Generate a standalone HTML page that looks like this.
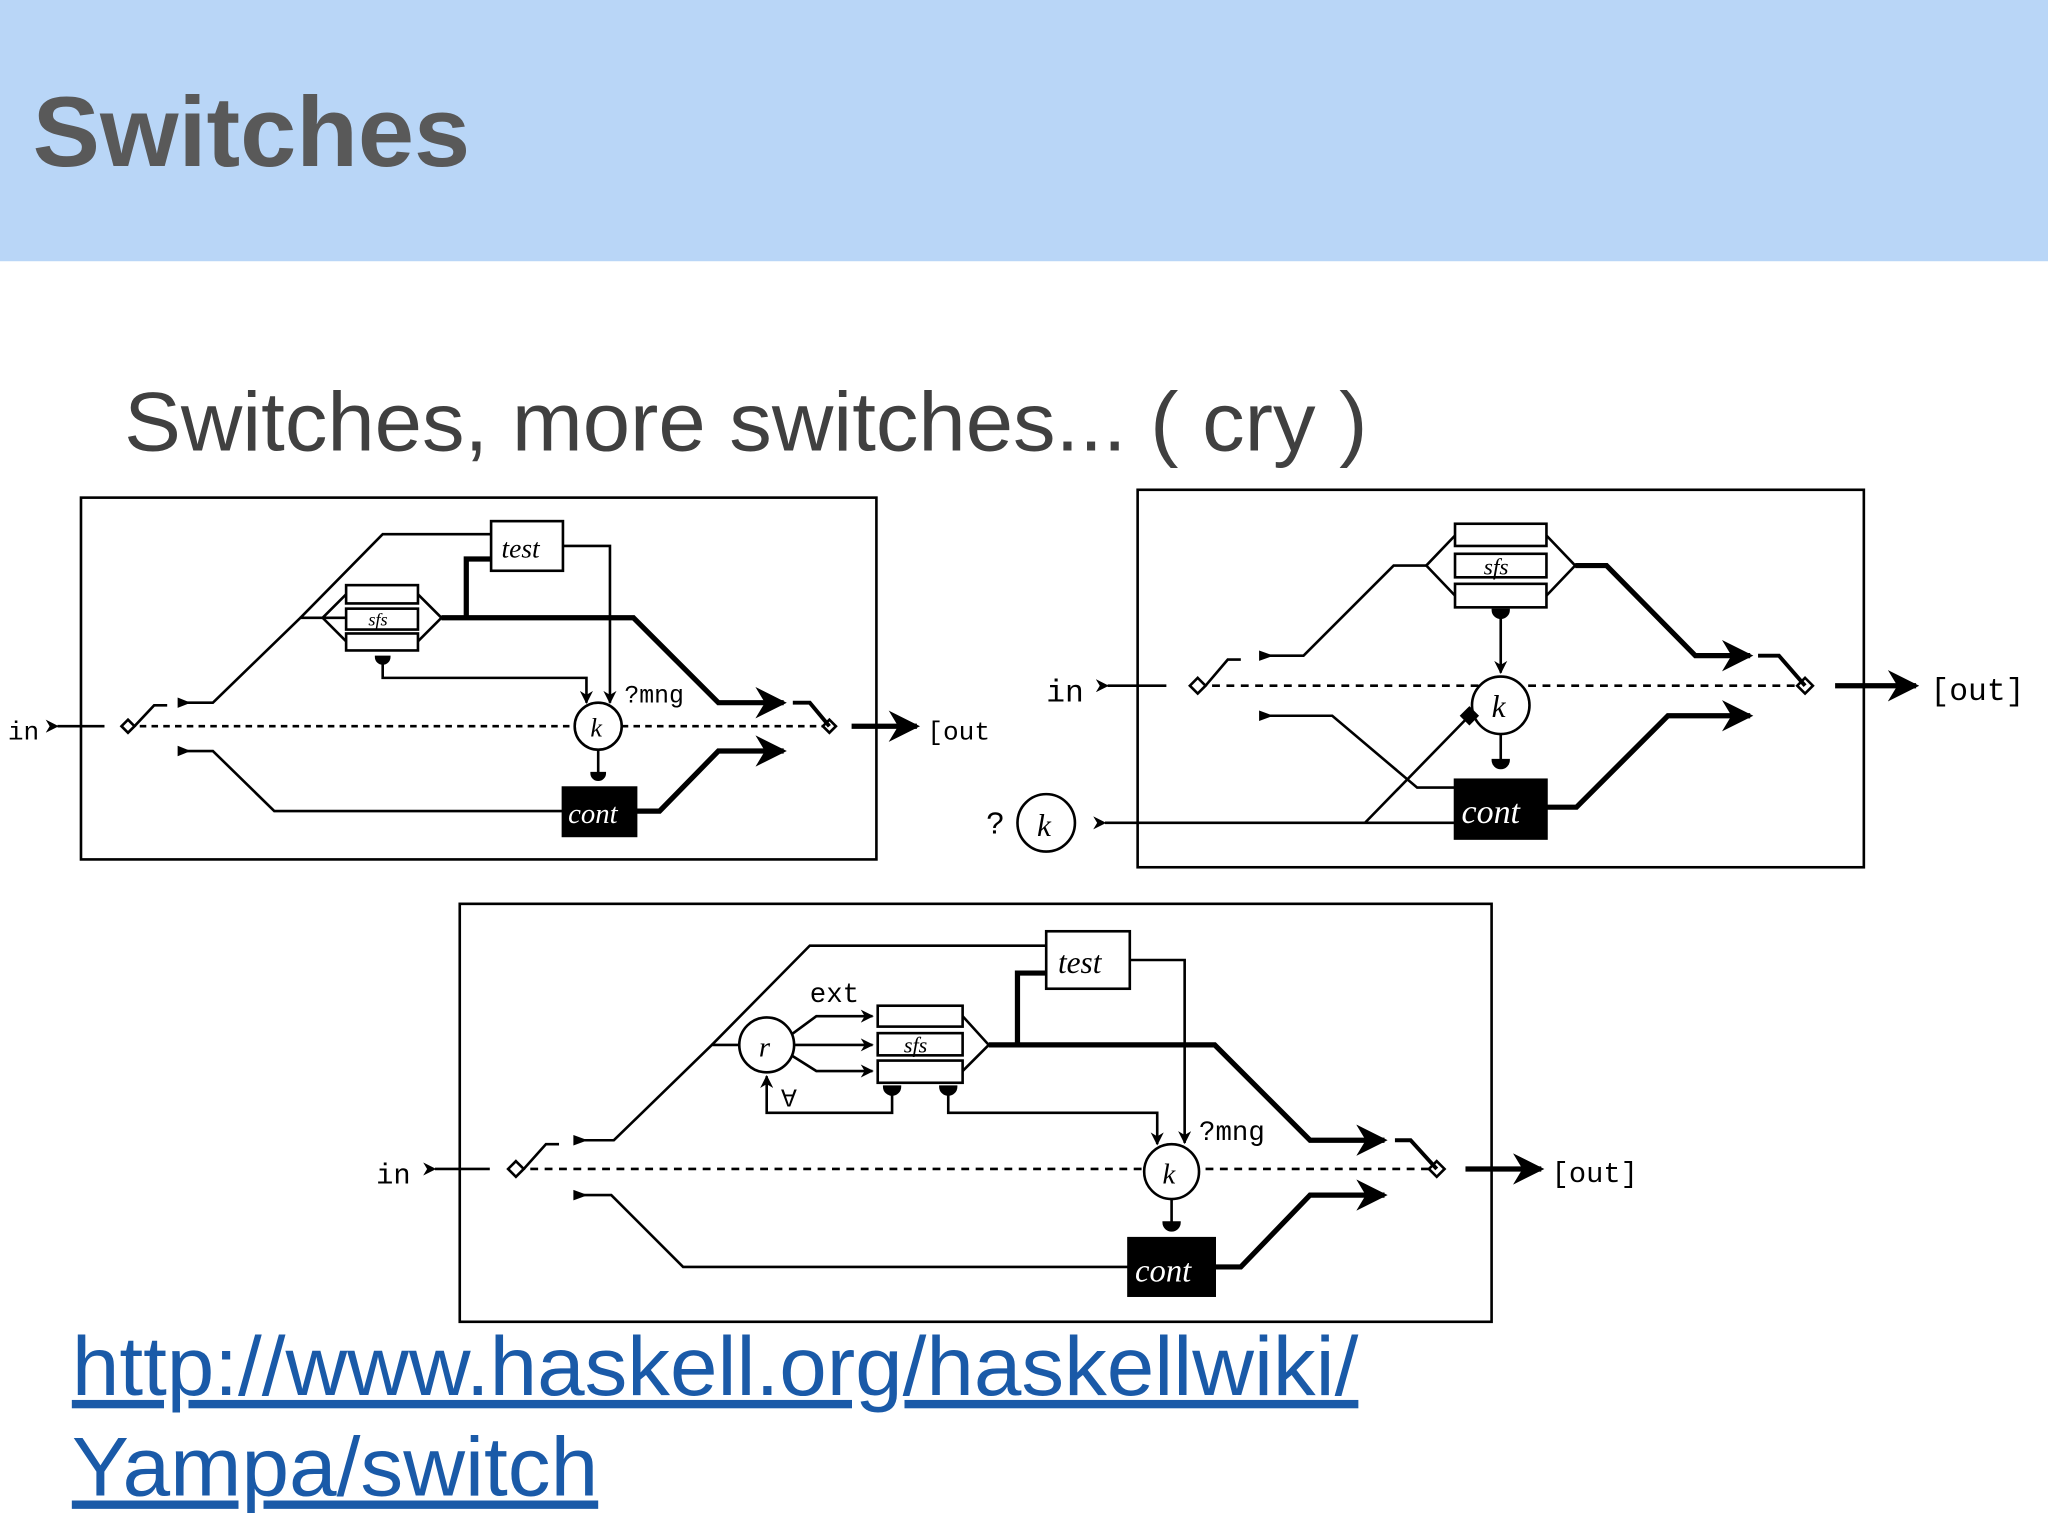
<!DOCTYPE html>
<html><head><meta charset="utf-8"><style>
html,body{margin:0;padding:0;background:#fff;}
svg{display:block;}
</style></head><body>
<svg width="2048" height="1536" viewBox="0 0 1568 1176" xmlns="http://www.w3.org/2000/svg">
<defs>
<marker id="a" viewBox="0 0 10 10" refX="9" refY="5" markerWidth="6" markerHeight="6" orient="auto"><path d="M0,0 L10,5 L0,10 L3,5z" fill="#000"/></marker>
<marker id="b" viewBox="0 0 10 10" refX="9" refY="5" markerWidth="5" markerHeight="5" orient="auto"><path d="M0,0 L10,5 L0,10 L3,5z" fill="#000"/></marker>
</defs>
<rect x="0" y="0" width="1568" height="200" fill="#b9d6f7"/>
<text x="25" y="127" font-family="Liberation Sans, sans-serif" font-size="76" font-weight="bold" fill="#595959" textLength="335" lengthAdjust="spacingAndGlyphs">Switches</text>
<text x="95" y="345" font-family="Liberation Sans, sans-serif" font-size="64" fill="#404040" textLength="952" lengthAdjust="spacingAndGlyphs">Switches, more switches... ( cry )</text>
<text x="55" y="1068" font-family="Liberation Sans, sans-serif" font-size="64" fill="#1a5aa8" text-decoration="underline" textLength="985" lengthAdjust="spacingAndGlyphs">http://www.haskell.org/haskellwiki/</text>
<text x="55" y="1145" font-family="Liberation Sans, sans-serif" font-size="64" fill="#1a5aa8" text-decoration="underline" textLength="403" lengthAdjust="spacingAndGlyphs">Yampa/switch</text>

<g fill="none" stroke="#000" stroke-width="2" font-family="Liberation Mono, monospace">
<!-- Diagram 1 -->
<rect x="62" y="381" width="609" height="277"/>
<text x="6" y="566" font-size="20" fill="#000" stroke="none">in</text>
<line x1="44" y1="556" x2="80" y2="556" marker-start="url(#b)"/>
<line x1="98" y1="556" x2="635" y2="556" stroke-dasharray="5,4"/>
<path d="M98,551 L103,556 L98,561 L93,556z" fill="#fff"/>
<path d="M635,551 L640,556 L635,561 L630,556z" fill="#fff"/>
<path d="M103,556 L118,540 L128,540"/>
<path d="M137,538 L163,538 L230,473 L265,473"/>
<path d="M230,473 L293,409 L376,409"/>
<rect x="376" y="399" width="55" height="38" fill="#fff"/>
<text x="384" y="427" font-size="21" font-style="italic" font-family="Liberation Serif, serif" fill="#000" stroke="none">test</text>
<rect x="265" y="448" width="55" height="14"/><rect x="265" y="466" width="55" height="16"/><rect x="265" y="485" width="55" height="13"/>
<text x="282" y="479" font-size="14" font-style="italic" font-family="Liberation Serif, serif" fill="#000" stroke="none">sfs</text>
<path d="M265,455 L247,473 L265,491 M320,455 L338,473 L320,491"/>
<path d="M338,473 L485,473 L550,538 L600,538" stroke-width="4" marker-end="url(#a)"/>
<path d="M357,473 L357,428 L376,428" stroke-width="4"/>
<path d="M431,418 L467,418 L467,538" marker-end="url(#b)"/>
<path d="M293,505 L293,519 L449,519 L449,538" marker-end="url(#b)"/>
<path d="M288,503 A5,5 0 0 0 298,503z" fill="#000"/>
<circle cx="458" cy="556" r="18" fill="#fff"/>
<text x="452" y="564" font-size="20" font-style="italic" font-family="Liberation Serif, serif" fill="#000" stroke="none">k</text>
<text x="478" y="538" font-size="19" fill="#000" stroke="none">?mng</text>
<path d="M458,574 L458,592"/><path d="M453,592 A5,5 0 0 0 463,592z" fill="#000"/>
<rect x="431" y="603" width="56" height="37" fill="#000"/>
<text x="435" y="630" font-size="22" font-style="italic" font-family="Liberation Serif, serif" fill="#fff" stroke="none">cont</text>
<path d="M137,575 L163,575 L210,621 L431,621"/>
<path d="M487,621 L505,621 L550,575 L600,575" stroke-width="4" marker-end="url(#a)"/>
<path d="M607,538 L620,538 L635,556" stroke-width="3"/>
<line x1="652" y1="556" x2="702" y2="556" stroke-width="4" marker-end="url(#a)"/>
<text x="710" y="566" font-size="20" fill="#000" stroke="none">[out</text>
<path d="M146,538 l-10,-4 v8z M146,575 l-10,-4 v8z" fill="#000" stroke="none"/>

<!-- Diagram 2 -->
<rect x="871" y="375" width="556" height="289"/>
<text x="801" y="537" font-size="24" fill="#000" stroke="none">in</text>
<line x1="848" y1="525" x2="893" y2="525" marker-start="url(#b)"/>
<line x1="917" y1="525" x2="1382" y2="525" stroke-dasharray="6,5"/>
<path d="M917,519 L923,525 L917,531 L911,525z" fill="#fff"/>
<path d="M1382,519 L1388,525 L1382,531 L1376,525z" fill="#fff"/>
<path d="M923,525 L940,505 L950,505"/>
<rect x="1114" y="401" width="70" height="17"/><rect x="1114" y="424" width="70" height="18"/><rect x="1114" y="447" width="70" height="18"/>
<text x="1136" y="440" font-size="18" font-style="italic" font-family="Liberation Serif, serif" fill="#000" stroke="none">sfs</text>
<path d="M1114,410 L1092,433 L1114,456 M1184,410 L1206,433 L1184,456"/>
<path d="M965,502 L998,502 L1067,433 L1092,433"/>
<path d="M1206,433 L1230,433 L1298,502 L1340,502" stroke-width="4" marker-end="url(#a)"/>
<path d="M1149,470 L1149,515" marker-end="url(#b)"/>
<path d="M1143,467 A6,6 0 0 0 1155,467z" fill="#000"/>
<circle cx="1149" cy="540" r="22" fill="#fff"/>
<text x="1142" y="549" font-size="24" font-style="italic" font-family="Liberation Serif, serif" fill="#000" stroke="none">k</text>
<path d="M1149,562 L1149,582"/><path d="M1143,582 A6,6 0 0 0 1155,582z" fill="#000"/>
<rect x="1114" y="597" width="70" height="45" fill="#000"/>
<text x="1119" y="630" font-size="26" font-style="italic" font-family="Liberation Serif, serif" fill="#fff" stroke="none">cont</text>
<path d="M965,548 L1020,548 L1085,603 L1114,603"/>
<text x="755" y="638" font-size="24" fill="#000" stroke="none">?</text>
<circle cx="801" cy="630" r="22" fill="#fff"/>
<text x="794" y="640" font-size="24" font-style="italic" font-family="Liberation Serif, serif" fill="#000" stroke="none">k</text>
<line x1="846" y1="630" x2="1114" y2="630" marker-start="url(#b)"/>
<path d="M1045,630 L1125,548"/>
<path d="M1125,542 L1131,548 L1125,554 L1119,548z" fill="#000"/>
<path d="M1184,618 L1207,618 L1277,548 L1340,548" stroke-width="4" marker-end="url(#a)"/>
<path d="M1346,502 L1362,502 L1382,525" stroke-width="3"/>
<line x1="1405" y1="525" x2="1467" y2="525" stroke-width="4" marker-end="url(#a)"/>
<text x="1478" y="536" font-size="24" fill="#000" stroke="none">[out]</text>
<path d="M975,502 l-11,-4 v8z M975,548 l-11,-4 v8z" fill="#000" stroke="none"/>

<!-- Diagram 3 -->
<rect x="352" y="692" width="790" height="320"/>
<text x="288" y="906" font-size="22" fill="#000" stroke="none">in</text>
<line x1="333" y1="895" x2="375" y2="895" marker-start="url(#b)"/>
<line x1="395" y1="895" x2="1100" y2="895" stroke-dasharray="6,5"/>
<path d="M395,889 L401,895 L395,901 L389,895z" fill="#fff"/>
<path d="M1100,889 L1106,895 L1100,901 L1094,895z" fill="#fff"/>
<path d="M401,895 L418,876 L428,876"/>
<path d="M440,873 L470,873 L545,800 L566,800"/>
<path d="M545,800 L620,724 L801,724"/>
<rect x="801" y="713" width="64" height="44" fill="#fff"/>
<text x="810" y="745" font-size="24" font-style="italic" font-family="Liberation Serif, serif" fill="#000" stroke="none">test</text>
<rect x="672" y="770" width="65" height="16"/><rect x="672" y="791" width="65" height="17"/><rect x="672" y="812" width="65" height="17"/>
<text x="692" y="806" font-size="17" font-style="italic" font-family="Liberation Serif, serif" fill="#000" stroke="none">sfs</text>
<path d="M737,778 L757,800 L737,820"/>
<circle cx="587" cy="800" r="21" fill="#fff"/>
<text x="581" y="809" font-size="22" font-style="italic" font-family="Liberation Serif, serif" fill="#000" stroke="none">r</text>
<text x="620" y="767" font-size="21" fill="#000" stroke="none">ext</text>
<path d="M606,792 L625,778 L668,778" marker-end="url(#b)"/>
<path d="M608,800 L668,800" marker-end="url(#b)"/>
<path d="M606,808 L625,820 L668,820" marker-end="url(#b)"/>
<path d="M757,800 L930,800 L1003,873 L1060,873" stroke-width="4" marker-end="url(#a)"/>
<path d="M779,800 L779,745 L801,745" stroke-width="4"/>
<path d="M865,735 L907,735 L907,875" marker-end="url(#b)"/>
<path d="M677,832 A6,6 0 0 0 689,832z M720,832 A6,6 0 0 0 732,832z" fill="#000"/>
<path d="M683,836 L683,852 L587,852 L587,824" marker-end="url(#b)"/>
<text x="598" y="848" font-size="20" fill="#000" stroke="none" transform="rotate(180 604 841)">A</text>
<path d="M726,836 L726,852 L886,852 L886,876" marker-end="url(#b)"/>
<circle cx="897" cy="897" r="21" fill="#fff"/>
<text x="890" y="906" font-size="22" font-style="italic" font-family="Liberation Serif, serif" fill="#000" stroke="none">k</text>
<text x="918" y="873" font-size="21" fill="#000" stroke="none">?mng</text>
<path d="M897,918 L897,936"/><path d="M891,936 A6,6 0 0 0 903,936z" fill="#000"/>
<rect x="864" y="948" width="66" height="44" fill="#000"/>
<text x="869" y="981" font-size="25" font-style="italic" font-family="Liberation Serif, serif" fill="#fff" stroke="none">cont</text>
<path d="M440,915 L468,915 L523,970 L864,970"/>
<path d="M930,970 L950,970 L1003,915 L1060,915" stroke-width="4" marker-end="url(#a)"/>
<path d="M1068,873 L1080,873 L1100,895" stroke-width="3"/>
<line x1="1122" y1="895" x2="1180" y2="895" stroke-width="4" marker-end="url(#a)"/>
<text x="1188" y="905" font-size="22" fill="#000" stroke="none">[out]</text>
<path d="M450,873 l-11,-4 v8z M450,915 l-11,-4 v8z" fill="#000" stroke="none"/>
</g>
</svg>
</body></html>
